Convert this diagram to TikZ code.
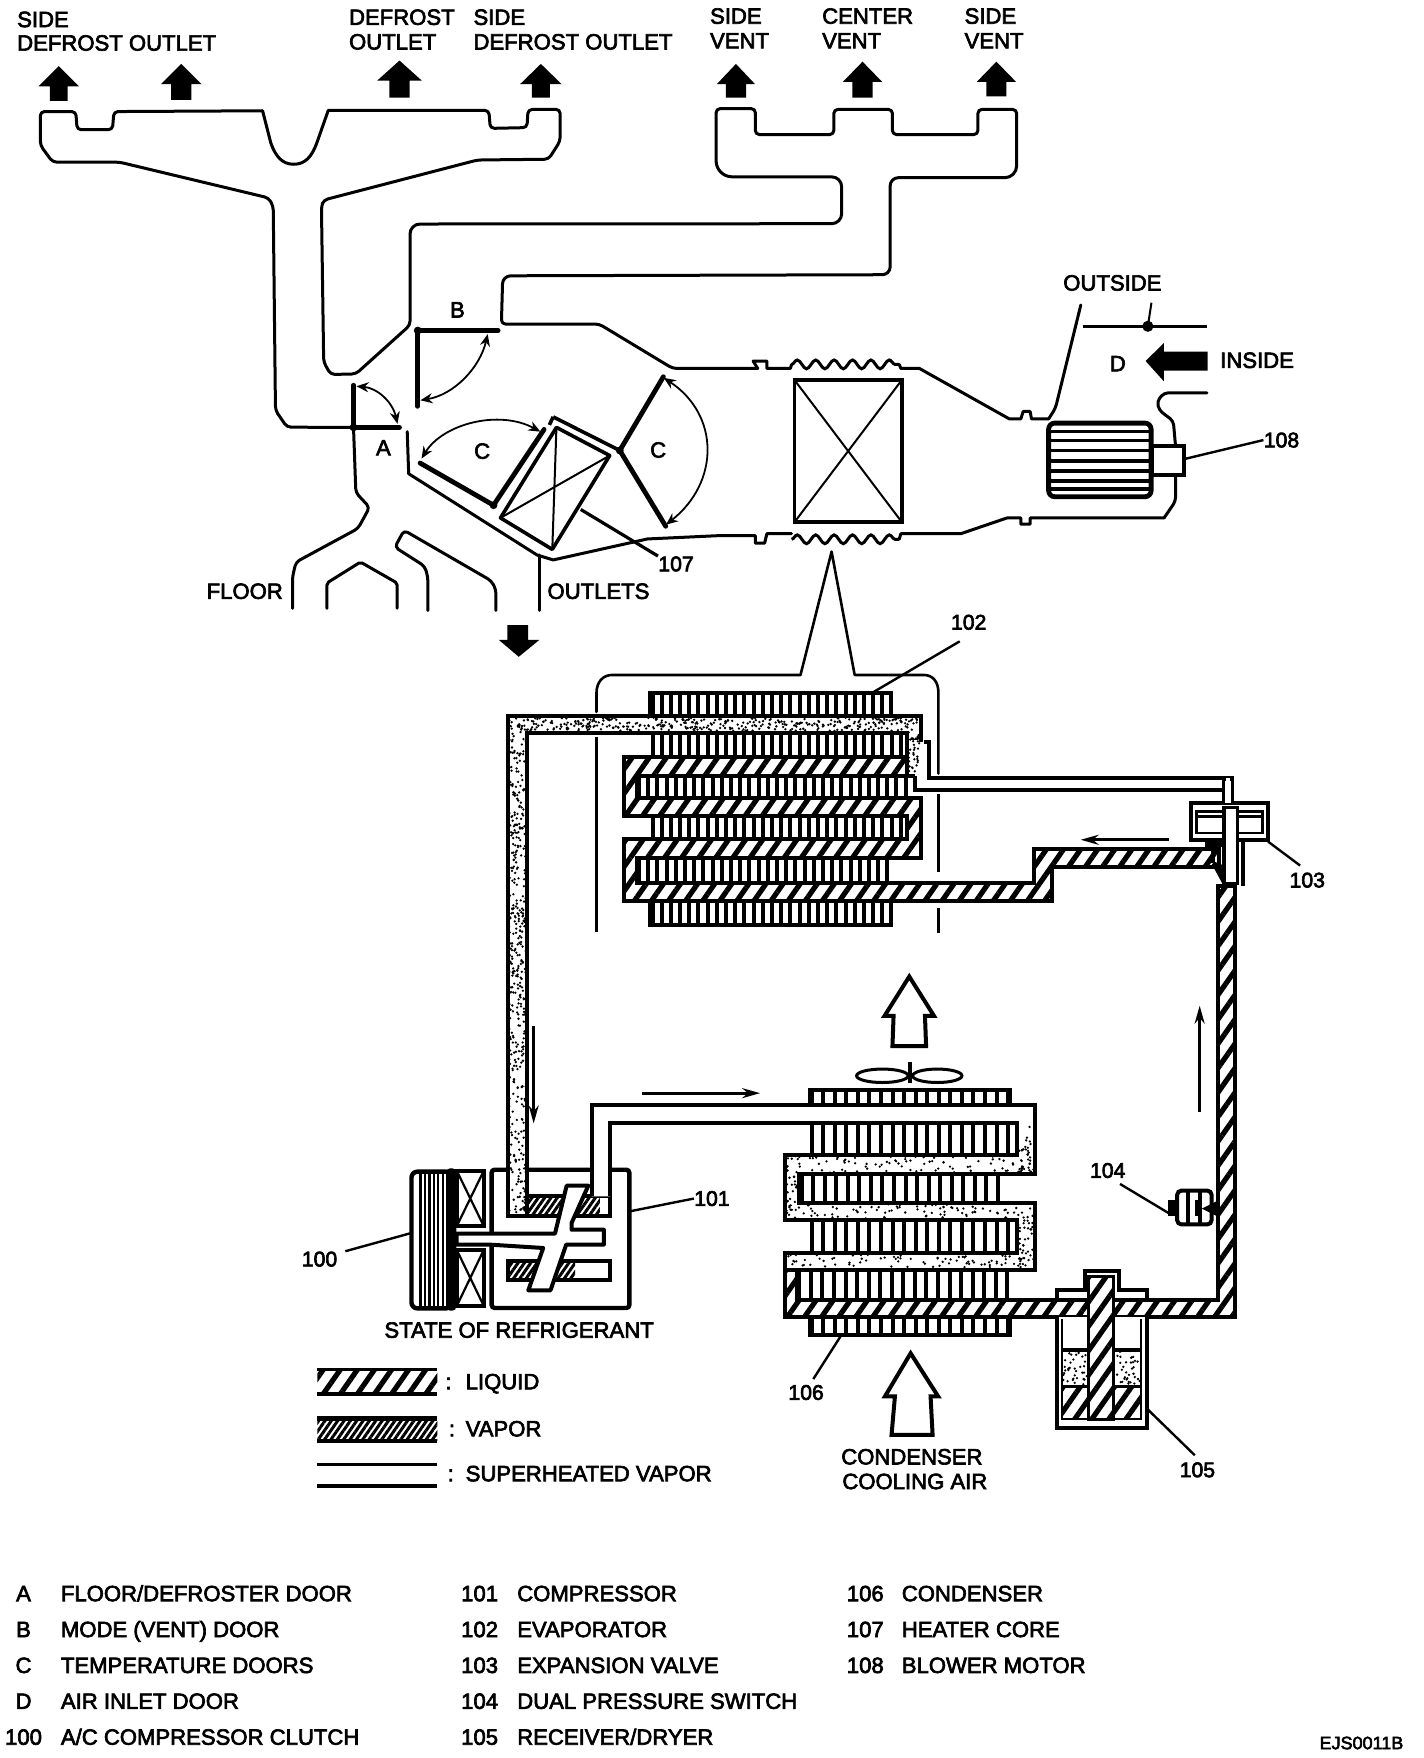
\documentclass[tikz,border=0pt]{standalone}
\usepackage{fontspec}
\setmainfont{Liberation Sans}
\newfontfamily\lab[FakeBold=3]{Liberation Sans}
\usetikzlibrary{arrows.meta,patterns.meta,decorations.pathmorphing}
\tikzset{
  txt/.style={font=\lab\fontsize{11.05}{12}\selectfont,inner sep=0pt,anchor=west,text=black,text height=8pt,text depth=0pt},
  num/.style={font=\lab\fontsize{10.6}{12}\selectfont,inner sep=0pt,text=black},
  duct/.style={line width=1.5pt,line join=round,line cap=round,rounded corners=2pt},
  door/.style={line width=2.4pt,line cap=round},
  swing/.style={line width=0.9pt,{Stealth[length=6pt,width=5pt]}-{Stealth[length=6pt,width=5pt]}},
  leader/.style={line width=1.2pt},
  tube/.style={line width=2pt,line join=miter,fill=white},
  liq/.style={pattern={Lines[angle=55,distance=7pt,line width=2.6pt]},pattern color=black},
  dark/.style={pattern={Lines[angle=55,distance=2.6pt,line width=1.5pt]},pattern color=black},
  fin/.style={line width=2pt},
  flow/.style={line width=1.4pt,-{Stealth[length=9pt,width=5pt]}},
  hollow/.style={line width=2pt,line join=miter,fill=white},
  solidarrow/.style={fill=black,draw=none}
}
\newcommand{\finrow}[5]{\pgfmathtruncatemacro\nfin{(#2-#1)/#5}%
  \foreach \i in {0,...,\nfin}{\draw[fin] ({#1+\i*#5},#3) -- ({#1+\i*#5},#4);}}
\newcommand{\stip}[5]{\foreach \i in {1,...,#5}{\fill ({#1+rnd*(#2-#1)},{#3+rnd*(#4-#3)}) circle (1.15);}}
\newcommand{\outarrow}[5]{\fill[solidarrow] (#1,#2) -- (#1+#3,#2+18) -- (#1+#4,#2+18) -- (#1+#4,#2+#5) -- (#1-#4,#2+#5) -- (#1-#4,#2+18) -- (#1-#3,#2+18) -- cycle;}
\begin{document}
\begin{tikzpicture}[x=0.5606pt,y=-0.5606pt]
\useasboundingbox (0,0) rectangle (1270,1568);
\pgfmathsetseed{11}

% ---- top labels
\node[txt] (t1) at (15,17) {SIDE};
\node[txt] (t2) at (15,38) {DEFROST OUTLET};
\node[txt] (t3) at (311,15) {DEFROST};
\node[txt] (t4) at (311,37) {OUTLET};
\node[txt] (t5) at (422,15) {SIDE};
\node[txt] (t6) at (422,37) {DEFROST OUTLET};
\node[txt] (t7) at (633,14) {SIDE};
\node[txt] (t8) at (633,36) {VENT};
\node[txt] (t9) at (733,14) {CENTER};
\node[txt] (t10) at (733,36) {VENT};
\node[txt] (t11) at (860,14) {SIDE};
\node[txt] (t12) at (860,36) {VENT};

% ---- outlet arrows
\outarrow{52.4}{59}{18}{8}{31}
\outarrow{161.7}{57}{18}{9}{32}
\outarrow{356.3}{54}{20}{9}{33}
\outarrow{482.4}{57}{18.5}{8}{30}
\outarrow{656.4}{57}{17}{9}{30}
\outarrow{769.3}{55}{17.5}{9}{32}
\outarrow{888.7}{55}{17.5}{9}{31}

% ---- ducts
\draw[duct] (315.3,381.2) -- (256,381) -- (245.7,366) -- (243.7,184) -- (239.6,176.5) -- (106.5,144.6) -- (47,144.6) -- (36,129.6) -- (36,99.5) -- (67.6,99.5) -- (68.8,115.7) -- (100.3,115.7) -- (101.6,99.5) -- (234.2,98.8);
\draw[duct,rounded corners=0pt] (234.2,98.8) -- (241.6,127.7) .. controls (246,140) and (252,146.5) .. (262,146.5) .. controls (272,146.5) and (278,140) .. (282.5,127.7) -- (292.8,98.4);
\draw[duct] (292.8,98.4) -- (436,98.4) -- (437.3,114.5) -- (470,113.8) -- (471,97.6) -- (499.6,97.6) -- (499.6,125.8) -- (489.3,142) -- (425.9,142.7) -- (288.7,178.4) -- (286.7,184) -- (288.7,323) -- (295,334) -- (317.4,333.5) -- (365.7,290) [rounded corners=5pt] -- (365.7,199.8) -- (750.7,199.5) -- (750.7,157.7) [rounded corners=8pt] -- (638.7,157.7) [rounded corners=2pt] -- (638.7,96.9) -- (673.7,96.9) -- (673.7,120) -- (743.7,120) -- (743.7,97.6) -- (796,97.6) -- (796,120) -- (872.2,120) -- (872.2,97.6) -- (906.8,97.6) [rounded corners=6pt] -- (906.8,158.5) [rounded corners=4pt] -- (794,158.5) -- (794,245) -- (448.4,246) [rounded corners=2pt] -- (447.2,289) -- (534.4,289) -- (600,328.6) -- (675.8,328.6);
% top bump + waves
\draw[duct,rounded corners=0pt] (675.8,328.6) -- (671.7,322) -- (684,322) -- (684,328.6) -- (705,328.6) -- (706,325);
\draw[line width=1.5pt,decorate,decoration={snake,segment length=9.2pt,amplitude=2.2pt}] (706,325) -- (802,325);
\draw[duct,rounded corners=0pt] (802,325) -- (803.5,328.6) -- (820,328.6) -- (900.2,373.6) -- (910.5,373.6) -- (912.6,367) -- (918.8,367) -- (920,373.6) -- (935.3,373.6);
\draw[duct] (935.3,373.6) -- (941.4,364) -- (964,272);
% bottom
\draw[duct,rounded corners=0pt] (363.2,385) -- (364.5,422.5) -- (479,495) -- (493.4,499.4) -- (577.4,480.7) -- (642,477.7) -- (673.7,477.7) -- (673.7,484.4) -- (682,484.4) -- (684,476) -- (706,476);
\draw[line width=1.5pt,decorate,decoration={snake,segment length=9.2pt,amplitude=2.2pt}] (706,481) -- (802,481);
\draw[duct,rounded corners=0pt] (802,481) -- (803.5,476) -- (857,476) -- (898,462) -- (910.5,462) -- (910.5,467.5) -- (918.8,467.5) -- (918.8,462) -- (1038.2,462);
\draw[duct] (1038.2,462) -- (1048.5,447) -- (1048.5,424);
\draw[duct] (481,495) -- (481,544.5);
% outside flap
\node[txt] (outside) at (948,252) {OUTSIDE};
\coordinate (flapL) at (966,291);
\coordinate (flapR) at (1076.5,291);
\draw[line width=1.6pt] (flapL) -- (flapR);
\coordinate (flapP) at (1023.8,291);
\fill (flapP) circle (5);
\draw[line width=1pt] (1027,270) -- (flapP);
\node[txt,anchor=center] (dlab) at (997,324) {D};
\fill (1021.8,322) -- (1038,306) -- (1038,313.6) -- (1077,313.6) -- (1077,330.5) -- (1038,330.5) -- (1038,340) -- cycle;
\node[txt] (inside) at (1088,321) {INSIDE};
\draw[duct] (1076.5,350.4) -- (1038.2,350.4) -- (1032,358) -- (1034,366) -- (1046.5,375.5) -- (1048.5,398);
% motor
\draw[line width=2.4pt,rounded corners=3pt] (935.3,377.4) rectangle (1026.7,443);
\foreach \yy in {385,393,402,411,420,429,436}{\draw[line width=1.7pt] (936,\yy) -- (1026,\yy);}
\draw[line width=1.8pt] (1028,398) rectangle (1056,423.6);
\node[num] (n108) at (1143,392.5) {108};
\coordinate (l108) at (1056.8,409.3);
\draw[leader] (l108) -- (n108.west);

% ---- floor and outlets
\draw[duct] (315.3,381.2) -- (317.4,439.4) -- (329.6,452.5) -- (319.4,471.3) -- (264,501.3) -- (260.9,514.5) -- (260.9,542.6);
\draw[duct,rounded corners=1pt] (291.6,542.6) -- (291.6,520) -- (321.5,501.3) -- (354.2,520) -- (354.2,542.6);
\draw[duct] (381.6,544.5) -- (381.6,514.5) -- (378.8,505) -- (352.2,488) -- (360.4,473) -- (438.2,518) -- (442.3,525.7) -- (442.3,544.5);
\node[txt] (floor) at (184,527) {FLOOR};
\node[txt] (outlets) at (488,527) {OUTLETS};
\fill (462.7,585.8) -- (445,570.8) -- (452.5,570.8) -- (452.5,557.6) -- (471,557.6) -- (471,570.8) -- (481,570.8) -- cycle;

% ---- doors
\coordinate (pA) at (315.3,381.2);
\draw[door] (pA) -- (315.3,343.6);
\draw[door] (pA) -- (356.3,381.2);
\fill (pA) circle (3.5);
\draw[swing] (318,344.5) .. controls (336,346) and (350,358) .. (354.5,378);
\node[txt,anchor=center] (alab) at (342,399) {A};
\coordinate (pB) at (372.6,294.8);
\draw[door] (pB) -- (444.3,294.8);
\draw[door] (pB) -- (372.6,362.4);
\fill (pB) circle (3.5);
\draw[swing] (375,357) .. controls (405,352) and (428,328) .. (435,298);
\node[txt,anchor=center] (blab) at (408,276) {B};
\coordinate (pC1) at (440.2,450.6);
\draw[door] (pC1) -- (485.3,383);
\draw[door] (pC1) -- (374.7,413);
\fill (pC1) circle (3.5);
\draw[swing] (376,409) .. controls (395,378) and (445,365) .. (482,385);
\node[txt,anchor=center] (clab1) at (430,402) {C};
\coordinate (pC2) at (552.8,401.8);
\draw[door] (pC2) -- (591.7,336);
\draw[door] (pC2) -- (593.8,469.4);
\fill (pC2) circle (3.5);
\draw[swing] (592,337) .. controls (642,370) and (642,430) .. (594,468);
\node[txt,anchor=center] (clab2) at (587,401) {C};
% heater core
\draw[line width=1.8pt,line join=round] (496.3,381.2) -- (543.8,406.3) -- (492.6,490) -- (446.4,461.9) -- cycle;
\draw[line width=1pt] (496.3,381.2) -- (492.6,490) (446.4,461.9) -- (543.8,406.3);
\draw[line width=1.8pt] (493.4,371.8) -- (pC2);
\draw[line width=1.8pt] (493.4,371.8) -- (490,379);
\node[num] (n107) at (603,503) {107};
\coordinate (l107) at (518,454.4);
\draw[line width=1.6pt] (l107) -- (n107.north west);
% evaporator box in duct
\draw[line width=1.8pt] (708.7,339) rectangle (804.3,465.6);
\draw[line width=1pt] (708.7,339) -- (804.3,465.6) (708.7,465.6) -- (804.3,339);

% ---- evaporator housing
\coordinate (apex) at (741.7,492);
\draw[duct,rounded corners=0pt,line width=1.3pt] (532,635) -- (532,618.4) .. controls (532,608) and (538,602) .. (546,602) -- (714,602) -- (apex) -- (762.3,602) -- (823.8,602) .. controls (832,602) and (837,608) .. (837,618) -- (837,690);
\draw[line width=1.3pt] (532,657) -- (532,831);
\draw[line width=1.3pt] (837,708) -- (837,778) (837,810) -- (837,832);
\node[num] (n102) at (864,555) {102};
\coordinate (l102) at (779.5,617);
\draw[leader] (l102) -- (856,572);

% evaporator fins
\finrow{582}{794}{620}{638}{8.2}
\finrow{582}{809}{654}{675}{8.2}
\finrow{570}{809}{692}{712}{8.2}
\finrow{582}{809}{728}{748}{8.2}
\finrow{570}{794}{766}{788}{8.2}
\finrow{582}{794}{804}{825}{8.2}
\draw[line width=2pt] (579.4,638) -- (579.4,618.4) -- (794.3,618.4) -- (794.3,638);
\draw[line width=2pt] (579.4,804) -- (579.4,825) -- (794.3,825) -- (794.3,804);

% compressor housing etc (before the tubes)
\draw[line width=2.2pt,rounded corners=1.5pt] (438.5,1043.3) rectangle (561.3,1166.6);
\draw[line width=2pt,fill=white] (454.8,1067) rectangle (544,1085);
\fill[dark] (454.8,1067) rectangle (535,1085);
\draw[line width=2pt,fill=white] (453.3,1125) rectangle (544,1141.4);
\fill[dark] (453.3,1125) rectangle (513,1141.4);

% evaporator tube: liquid part
\draw[tube] (821.3,674.8) -- (556.8,674.8) -- (556.8,727.8) -- (809,727.8) -- (809,748.3) -- (556.8,748.3) -- (556.8,804) -- (938.3,804) -- (938.3,773) -- (1086.8,773) -- (1086.8,757.5) -- (922,757.5) -- (922,787.8) -- (568,787.8) -- (568,765.5) -- (821.3,765.5) -- (821.3,712) -- (568,712) -- (568,692) -- (821.3,692) -- cycle;
\fill[liq] (821.3,674.8) -- (556.8,674.8) -- (556.8,727.8) -- (809,727.8) -- (809,748.3) -- (556.8,748.3) -- (556.8,804) -- (938.3,804) -- (938.3,773) -- (1086.8,773) -- (1086.8,757.5) -- (922,757.5) -- (922,787.8) -- (568,787.8) -- (568,765.5) -- (821.3,765.5) -- (821.3,712) -- (568,712) -- (568,692) -- (821.3,692) -- cycle;
% evaporator vapor tube
\draw[tube] (453.3,1085) -- (453.3,638.6) -- (821.3,638.6) -- (821.3,692) -- (809,692) -- (809,653.4) -- (469.7,653.4) -- (469.7,1085) -- cycle;
\stip{454}{469}{640}{1082}{420}
\stip{470}{820}{640}{652}{380}
\stip{810}{820}{652}{690}{35}
% outlet superheated tube
\fill[white] (810,660) rectangle (825,703);
\draw[line width=2pt] (823.8,661.5) -- (828.7,661.5) -- (828.7,694.2) -- (1099,694.2) -- (1099,716.5);
\draw[line width=2pt] (816.4,692) -- (816.4,704.6) -- (1091.7,704.6) -- (1091.7,716.5);
\draw[line width=2pt] (821.3,640) -- (821.3,661.5) (809,653.4) -- (809,692) -- (816.4,692);
\stip{810}{820}{655}{690}{30}

% liquid line on right
\draw[tube] (1086,790) -- (1086,1159.3) -- (710.5,1159.3) -- (710.5,1132.6) -- (700,1132.6) -- (700,1175) -- (1101.4,1175) -- (1101.4,790) -- cycle;
\fill[liq] (1086,790) -- (1086,1159.3) -- (710.5,1159.3) -- (710.5,1132.6) -- (700,1132.6) -- (700,1175) -- (1101.4,1175) -- (1101.4,790) -- cycle;

% expansion valve
\draw[line width=2pt,fill=white] (1062,716.5) rectangle (1131,749.2);
\draw[line width=1.3pt] (1067,724) rectangle (1126,743);
\draw[line width=1.5pt] (1067,728) -- (1126,728);
\draw[line width=2pt,fill=white] (1091.7,694.2) -- (1091.7,716.5) -- (1099,716.5) -- (1099,694.2);
\fill[white] (1092.5,697) rectangle (1098.2,716);
\draw[line width=1.6pt,fill=white] (1091.7,720) rectangle (1104,788);
\draw[line width=1.8pt] (1082,749) -- (1082,770) (1108.9,749) -- (1108.9,790);
\draw[line width=1.5pt] (1082,770) -- (1091.7,788);
\fill (1075,749) rectangle (1091,755);
\fill (1082,768) -- (1091.7,772) -- (1091.7,790) -- cycle;
\node[num] (n103) at (1166,785) {103};
\coordinate (l103) at (1131,750.6);
\draw[leader] (l103) -- (1159.6,772);
\draw[flow] (1042.5,749) -- (963.9,749);

% ---- condenser
\finrow{724}{900}{974}{985}{10.3}
\finrow{724}{906}{1002}{1030}{10.3}
\finrow{715}{900}{1047}{1073}{10.3}
\finrow{724}{906}{1088}{1118}{10.3}
\finrow{713}{900}{1133}{1159}{10.3}
\finrow{724}{900}{1176}{1189}{10.3}
\draw[line width=2pt] (722.4,985) -- (722.4,972.6) -- (900.8,972.6) -- (900.8,985);
\draw[line width=2pt] (722.4,1175) -- (722.4,1190.5) -- (900.8,1190.5) -- (900.8,1175);
\draw[tube] (527.7,1067) -- (527.7,985.3) -- (923,985.3) -- (923,1047) -- (713,1047) -- (713,1073) -- (923,1073) -- (923,1132.6) -- (710.5,1132.6) -- (700,1132.6) -- (700,1117.7) -- (906.7,1117.7) -- (906.7,1088) -- (700,1088) -- (700,1030) -- (906.7,1030) -- (906.7,1001.5) -- (544,1001.5) -- (544,1067);
\stip{908}{922}{1005}{1046}{30}
\stip{701}{922}{1031}{1046}{90}
\stip{701}{712}{1046}{1087}{20}
\stip{701}{922}{1074}{1087}{90}
\stip{908}{922}{1088}{1131}{35}
\stip{701}{922}{1119}{1131}{80}
% fan
\draw[line width=1.5pt] (787,959.5) ellipse (23 and 6);
\draw[line width=1.5pt] (836,959.5) ellipse (22 and 6);
\draw[line width=1.8pt] (811.6,947) -- (811.6,966);
\node[txt] (cond1) at (750,1299) {CONDENSER};
\node[txt] (cond2) at (751,1321) {COOLING AIR};
\draw[hollow] (811,871) -- (833,906) -- (825,906) -- (826,933) -- (796,933) -- (797,906) -- (789,906) -- cycle;
\draw[hollow] (812.2,1207) -- (836.8,1245.5) -- (830,1245.5) -- (831.8,1279.7) -- (795.2,1279.7) -- (798.2,1245.5) -- (789.3,1245.5) -- cycle;
\node[num] (n106) at (719,1242) {106};
\coordinate (l106) at (750.6,1190.5);
\draw[leader] (l106) -- (725.4,1230);

% receiver
\draw[line width=2pt,fill=white] (942.4,1175) -- (942.4,1273.8) -- (1022.6,1273.8) -- (1022.6,1175);
\draw[line width=1pt] (947,1176) -- (947,1266) -- (1018,1266) -- (1018,1176);
\fill[liq] (948,1236.6) rectangle (1017,1265);
\stip{948}{1017}{1204}{1235}{110}
\draw[line width=1.6pt] (948,1204) -- (1017,1204) (948,1236.6) -- (1017,1236.6);
\draw[line width=2pt,fill=white] (942.4,1159.3) -- (942.4,1150.4) -- (967.6,1150.4) -- (967.6,1134) -- (998.2,1134) -- (998.2,1150.4) -- (1022.6,1150.4) -- (1022.6,1159.3) -- cycle;
\draw[line width=1.6pt,fill=white] (970.6,1138.5) rectangle (992.9,1266.3);
\fill[liq] (970.6,1138.5) rectangle (992.9,1266.3);
\draw[line width=1.6pt] (970.6,1138.5) rectangle (992.9,1266.3);
\node[num] (n105) at (1068,1311) {105};
\coordinate (l105) at (1024,1257.4);
\draw[leader] (l105) -- (1065.7,1298);

% switch 104
\draw[line width=2pt,fill=white,rounded corners=2pt] (1050,1062) rectangle (1080.6,1092);
\draw[line width=2pt] (1060,1062) -- (1060,1092) (1070,1062) -- (1070,1092);
\fill (1042,1070) rectangle (1052,1085);
\fill (1066,1070) rectangle (1072,1085);
\fill (1072,1078) -- (1086,1071) -- (1086,1085) -- cycle;
\node[num] (n104) at (988,1044) {104};
\coordinate (l104) at (1044.9,1083.5);
\draw[leader] (l104) -- (999,1056);
\draw[flow] (1070,992) -- (1070,897);

% flows
\draw[flow] (476,915) -- (476,1002);
\draw[flow] (573,975) -- (678,975);

% ---- compressor
\draw[line width=2pt,fill=white,line join=round] (407.3,1100.3) -- (495,1100.3) -- (505.4,1057.5) -- (524.7,1057.5) -- (509.8,1090.8) -- (509.8,1096.8) -- (538.6,1096.8) -- (538.6,1110.1) -- (505,1110.1) -- (491,1150.9) -- (471.2,1150.9) -- (484.5,1113.1) -- (437,1110.1) -- (407.3,1110.1) -- cycle;
% clutch
\draw[line width=2.2pt,rounded corners=3pt] (367,1045) rectangle (403,1167);
\foreach \xx in {375,379,383,387,391,395}{\draw[line width=1.1pt] (\xx,1046) -- (\xx,1166);}
\fill[rounded corners=2pt] (398,1042) rectangle (407,1169);
\draw[line width=2pt] (407.3,1044) rectangle (431.6,1093.8);
\draw[line width=1.1pt] (407.3,1044) -- (431.6,1093.8) (407.3,1093.8) -- (431.6,1044);
\draw[line width=2pt] (407.3,1114.6) rectangle (431.6,1165);
\draw[line width=1.1pt] (407.3,1114.6) -- (431.6,1165) (407.3,1165) -- (431.6,1114.6);
\node[num] (n100) at (285,1123) {100};
\coordinate (l100) at (367,1099.7);
\draw[leader] (l100) -- (308,1116);
\node[num] (n101) at (635,1069) {101};
\coordinate (l101) at (561.8,1080.4);
\draw[leader] (l101) -- (n101.west);

% ---- legend
\node[txt,anchor=center] (state) at (463,1186) {STATE OF REFRIGERANT};
\fill[liq] (283,1222) rectangle (390,1243);
\draw[line width=1.7pt] (283,1221.6) -- (390,1221.6) (283,1243.5) -- (390,1243.5);
\node[txt] (c1) at (397,1232) {:};
\node[txt] (leg1) at (415,1232) {LIQUID};
\fill[dark] (283,1265) rectangle (390,1285);
\draw[line width=2.2pt] (283,1265) -- (390,1265) (283,1285.5) -- (390,1285.5);
\node[txt] (c2) at (400,1274) {:};
\node[txt] (leg2) at (415,1274) {VAPOR};
\coordinate (s1a) at (283,1306.3);
\coordinate (s1b) at (390,1306.3);
\coordinate (s2a) at (283,1325.6);
\coordinate (s2b) at (390,1325.6);
\draw[line width=1.8pt] (s1a) -- (s1b) (s2a) -- (s2b);
\node[txt] (c3) at (399,1314) {:};
\node[txt] (leg3) at (415,1314) {SUPERHEATED VAPOR};

% ---- key
\node[txt,anchor=center] (k1a) at (21,1421) {A};
\node[txt] (k1) at (54,1421) {FLOOR/DEFROSTER DOOR};
\node[txt,anchor=center] (k2a) at (21,1453) {B};
\node[txt] (k2) at (54,1453) {MODE (VENT) DOOR};
\node[txt,anchor=center] (k3a) at (21,1485) {C};
\node[txt] (k3) at (54,1485) {TEMPERATURE DOORS};
\node[txt,anchor=center] (k4a) at (21,1517) {D};
\node[txt] (k4) at (54,1517) {AIR INLET DOOR};
\node[txt,anchor=center] (k5a) at (21,1549) {100};
\node[txt] (k5) at (54,1549) {A/C COMPRESSOR CLUTCH};
\node[txt] (m1a) at (411,1421) {101};
\node[txt] (m1) at (461,1421) {COMPRESSOR};
\node[txt] (m2a) at (411,1453) {102};
\node[txt] (m2) at (461,1453) {EVAPORATOR};
\node[txt] (m3a) at (411,1485) {103};
\node[txt] (m3) at (461,1485) {EXPANSION VALVE};
\node[txt] (m4a) at (411,1517) {104};
\node[txt] (m4) at (461,1517) {DUAL PRESSURE SWITCH};
\node[txt] (m5a) at (411,1549) {105};
\node[txt] (m5) at (461,1549) {RECEIVER/DRYER};
\node[txt] (r1a) at (755,1421) {106};
\node[txt] (r1) at (804,1421) {CONDENSER};
\node[txt] (r2a) at (755,1453) {107};
\node[txt] (r2) at (804,1453) {HEATER CORE};
\node[txt] (r3a) at (755,1485) {108};
\node[txt] (r3) at (804,1485) {BLOWER MOTOR};
\node[txt,anchor=east,font=\lab\fontsize{9}{11}\selectfont] (code) at (1252,1553) {EJS0011B};
\end{tikzpicture}
\end{document}
